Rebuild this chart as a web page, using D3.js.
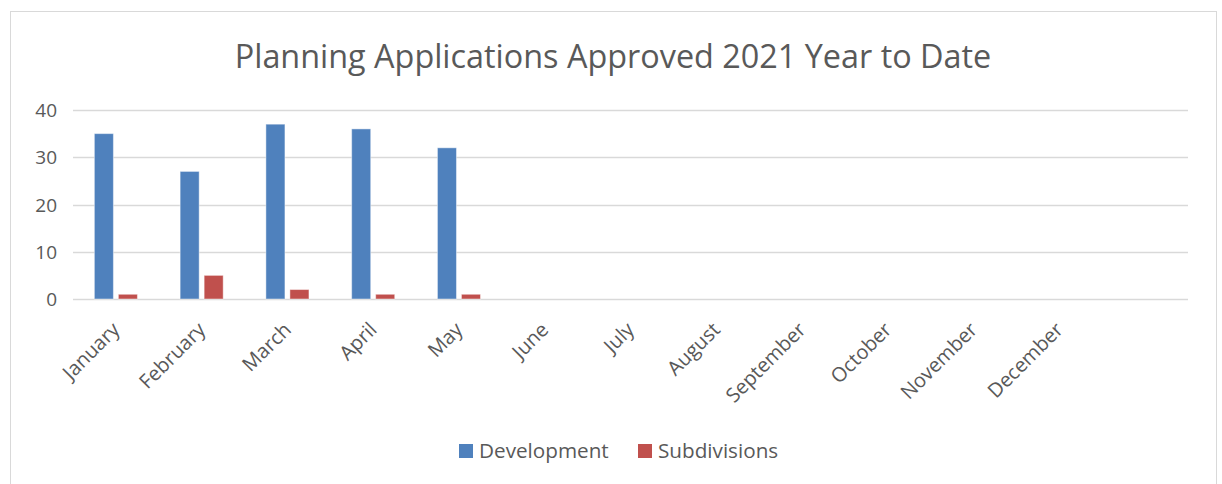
<!DOCTYPE html>
<html>
<head>
<meta charset="utf-8">
<script src="https://cdn.jsdelivr.net/npm/d3@7"></script>
<style>
  html, body { margin: 0; padding: 0; background: #fff; }
  svg { display: block; font-family: "Open Sans", sans-serif; }
</style>
</head>
<body>
<svg id="chart" width="1222" height="484"></svg>
<script>
// Monthly approvals, 2021 year to date
const months = ["January", "February", "March", "April", "May", "June",
  "July", "August", "September", "October", "November", "December"];
const development = [35, 27, 37, 36, 32, null, null, null, null, null, null, null];
const subdivisions = [1, 5, 2, 1, 1, null, null, null, null, null, null, null];
const seriesNames = ["Development", "Subdivisions"];
const seriesColors = ["#4F81BD", "#C0504D"];
const yTicks = [0, 10, 20, 30, 40];
const titleText = "Planning Applications Approved 2021 Year to Date";

const svg = d3.select("#chart");
const textColor = "#595959";
const gridColor = "#d9d9d9";

// Outer chart frame
svg.append("rect")
  .attr("x", 10.5).attr("y", 11.5)
  .attr("width", 1206).attr("height", 490)
  .attr("fill", "#fff").attr("stroke", gridColor).attr("stroke-width", 1);

const plot = { left: 73, right: 1188, top: 110, bottom: 299 };

// The category axis reserves one empty slot after December
const slots = months.concat([""]);
const x = d3.scaleBand().domain(slots).range([plot.left, plot.right]).padding(0);
const y = d3.scaleLinear().domain([0, 40]).range([plot.bottom, plot.top]);

const band = x.bandwidth();
const barW = band * 0.222;
const barGap = band * 0.058;
const x1 = d3.scaleOrdinal().domain(seriesNames)
  .range([band / 2 - barGap / 2 - barW, band / 2 + barGap / 2]);

// Horizontal gridlines
svg.append("g").selectAll("line").data(yTicks).join("line")
  .attr("x1", plot.left).attr("x2", plot.right)
  .attr("y1", d => Math.round(y(d)) + 0.5).attr("y2", d => Math.round(y(d)) + 0.5)
  .attr("stroke", gridColor).attr("stroke-width", 1.4);

// Y axis labels
const yAxis = d3.axisLeft(y).tickValues(yTicks).tickSize(0).tickPadding(0);
const gy = svg.append("g").attr("transform", "translate(57,0)").call(yAxis);
gy.select(".domain").remove();
gy.selectAll("text").attr("fill", textColor).attr("font-size", 19)
  .attr("font-family", "Open Sans, sans-serif").attr("dy", "0.35em");

// Bars
const rows = months.map((m, i) => ({ month: m, values: [development[i], subdivisions[i]] }));
const groups = svg.append("g").selectAll("g").data(rows).join("g")
  .attr("transform", d => `translate(${x(d.month)},0)`);
groups.selectAll("rect")
  .data(d => d.values.map((v, k) => ({ name: seriesNames[k], value: v, color: seriesColors[k] }))
    .filter(e => e.value != null))
  .join("rect")
  .attr("x", e => x1(e.name))
  .attr("width", barW)
  .attr("y", e => y(e.value))
  .attr("height", e => y(0) - y(e.value))
  .attr("fill", e => e.color)
  .attr("stroke", "rgba(255,255,255,0.45)")
  .attr("stroke-width", 1);

// Category labels, rotated
const xAxis = d3.axisBottom(x).tickValues(months).tickSize(0).tickPadding(0);
const gx = svg.append("g").attr("transform", `translate(0,${plot.bottom})`).call(xAxis);
gx.select(".domain").remove();
gx.selectAll("text")
  .attr("fill", textColor).attr("font-size", 20)
  .attr("font-family", "Open Sans, sans-serif")
  .attr("text-anchor", "end")
  .attr("transform", "translate(0,27) rotate(-45)")
  .attr("dy", "0.35em")
  .attr("y", 0).attr("x", 0);

// Title, sized to its allotted width
const title = svg.append("text")
  .attr("x", 613).attr("y", 68)
  .attr("text-anchor", "middle")
  .attr("fill", textColor)
  .attr("font-size", 32)
  .text(titleText);
const tw = title.node().getComputedTextLength();
title.attr("font-size", 32 * 757 / tw);

// Legend
const legendItems = [
  { name: seriesNames[0], color: seriesColors[0], sx: 459 },
  { name: seriesNames[1], color: seriesColors[1], sx: 638 }
];
const lg = svg.append("g").selectAll("g").data(legendItems).join("g")
  .attr("transform", d => `translate(${d.sx},444)`);
lg.append("rect").attr("width", 14).attr("height", 14).attr("fill", d => d.color);
lg.append("text").attr("x", 20).attr("y", 14)
  .attr("fill", textColor).attr("font-size", 20.7)
  .text(d => d.name);
</script>
</body>
</html>
